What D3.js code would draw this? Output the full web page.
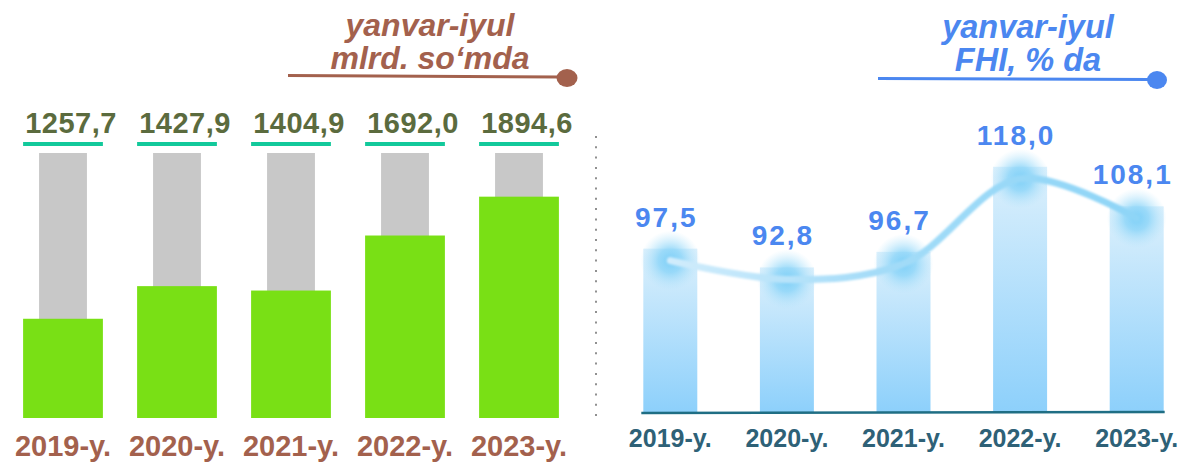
<!DOCTYPE html>
<html>
<head>
<meta charset="utf-8">
<script src="https://cdn.jsdelivr.net/npm/d3@7"></script>
<style>
  html, body { margin: 0; padding: 0; background: #fff; }
  svg { display: block; font-family: "Liberation Sans", Arial, sans-serif; }
</style>
</head>
<body>
<svg id="chart" width="1180" height="462"></svg>
<script>
// --- data ---
const years = ['2019-y.', '2020-y.', '2021-y.', '2022-y.', '2023-y.'];
const volume = [1257.7, 1427.9, 1404.9, 1692.0, 1894.6];   // mlrd. so'm
const growth = [97.5, 92.8, 96.7, 118.0, 108.1];           // FHI, %
const leftTitle = ['yanvar-iyul', 'mlrd. so‘mda'];
const rightTitle = ['yanvar-iyul', 'FHI, % da'];

const fmt = v => v.toFixed(1).replace('.', ',');

const svg = d3.select('#chart');
const defs = svg.append('defs');

// ---------- left chart ----------
const xL = d3.scaleBand().domain(years).range([6, 576]).paddingInner(0.3).paddingOuter(0.15);
const yL = d3.scaleLinear().domain([740, 2112]).range([418, 155]);
const left = svg.append('g');

// grey track behind each bar
left.selectAll('.track')
  .data(years)
  .join('rect')
  .attr('x', d => xL(d) + xL.bandwidth() * 0.2)
  .attr('width', xL.bandwidth() * 0.6)
  .attr('y', yL.range()[1] - 2)
  .attr('height', yL.range()[0] - yL.range()[1] + 2)
  .attr('fill', '#c8c8c8');

left.selectAll('.bar')
  .data(volume)
  .join('rect')
  .attr('x', (d, i) => xL(years[i]))
  .attr('width', xL.bandwidth())
  .attr('y', d => yL(d))
  .attr('height', d => yL.range()[0] - yL(d))
  .attr('fill', '#79e015');

left.selectAll('.uline')
  .data(years)
  .join('rect')
  .attr('x', d => xL(d))
  .attr('width', xL.bandwidth())
  .attr('y', 142)
  .attr('height', 4)
  .attr('fill', '#12c99b');

left.selectAll('.val')
  .data(volume)
  .join('text')
  .attr('x', (d, i) => xL(years[i]) + xL.bandwidth() / 2 + 8)
  .attr('y', 133)
  .attr('text-anchor', 'middle')
  .attr('font-size', 29)
  .attr('font-weight', 'bold')
  .attr('letter-spacing', 0.5)
  .attr('fill', '#5b6b3e')
  .text(fmt);

left.selectAll('.xlab')
  .data(years)
  .join('text')
  .attr('x', d => xL(d) + xL.bandwidth() / 2)
  .attr('y', 456)
  .attr('text-anchor', 'middle')
  .attr('font-size', 29)
  .attr('font-weight', 'bold')
  .attr('fill', '#a3614d')
  .text(d => d);

// left title
left.selectAll('.title')
  .data(leftTitle)
  .join('text')
  .attr('x', 430)
  .attr('y', (d, i) => 36 + i * 33)
  .attr('text-anchor', 'middle')
  .attr('font-size', 32)
  .attr('font-weight', 'bold')
  .attr('font-style', 'italic')
  .attr('fill', '#a3614d')
  .text(d => d);
left.append('line').attr('x1', 288).attr('x2', 560).attr('y1', 75.5).attr('y2', 77)
  .attr('stroke', '#a3614d').attr('stroke-width', 3);
left.append('ellipse').attr('cx', 567).attr('cy', 78).attr('rx', 10.5).attr('ry', 9).attr('fill', '#a3614d');

// dotted divider
svg.append('line').attr('x1', 596).attr('x2', 596).attr('y1', 136).attr('y2', 420)
  .attr('stroke', '#909090').attr('stroke-width', 2).attr('stroke-dasharray', '2,8.3');

// ---------- right chart ----------
const xR = d3.scaleBand().domain(years).range([612, 1195]).paddingInner(0.537).paddingOuter(0.2685);
const yR = d3.scaleLinear().domain([56.6, 120]).range([412, 158.8]);
const right = svg.append('g');

const grad = defs.append('linearGradient').attr('id', 'barGrad').attr('x1', 0).attr('y1', 0).attr('x2', 0).attr('y2', 1);
grad.append('stop').attr('offset', '0%').attr('stop-color', '#dcf0fc');
grad.append('stop').attr('offset', '100%').attr('stop-color', '#8dd0fb');

const glow = defs.append('radialGradient').attr('id', 'glow');
glow.append('stop').attr('offset', '0%').attr('stop-color', '#7dcff7').attr('stop-opacity', 1);
glow.append('stop').attr('offset', '40%').attr('stop-color', '#86d3f8').attr('stop-opacity', 0.75);
glow.append('stop').attr('offset', '100%').attr('stop-color', '#b5e4fb').attr('stop-opacity', 0);

const lineGrad = defs.append('linearGradient').attr('id', 'lineGrad')
  .attr('gradientUnits', 'userSpaceOnUse').attr('x1', 660).attr('x2', 1140).attr('y1', 0).attr('y2', 0);
lineGrad.append('stop').attr('offset', '0%').attr('stop-color', '#d3edfc');
lineGrad.append('stop').attr('offset', '45%').attr('stop-color', '#a4dcf8');
lineGrad.append('stop').attr('offset', '100%').attr('stop-color', '#8ed5f7');

defs.append('filter').attr('id', 'soft').append('feGaussianBlur').attr('stdDeviation', 1);

right.selectAll('.bar')
  .data(growth)
  .join('rect')
  .attr('x', (d, i) => xR(years[i]))
  .attr('width', xR.bandwidth())
  .attr('y', d => yR(d))
  .attr('height', d => yR.range()[0] - yR(d))
  .attr('fill', 'url(#barGrad)');

right.append('line')
  .attr('x1', xR(years[0]) - 2)
  .attr('x2', xR(years[years.length - 1]) + xR.bandwidth() + 1)
  .attr('y1', 413).attr('y2', 412)
  .attr('stroke', '#1f6e84').attr('stroke-width', 2.5);

const pts = growth.map((v, i) => [xR(years[i]) + xR.bandwidth() / 2, yR(v) + 12]);

right.selectAll('.glow')
  .data(pts)
  .join('circle')
  .attr('cx', d => d[0]).attr('cy', d => d[1]).attr('r', 30)
  .attr('fill', 'url(#glow)');

right.append('path')
  .datum(pts)
  .attr('d', d3.line().curve(d3.curveCatmullRom.alpha(0.5)))
  .attr('fill', 'none')
  .attr('stroke', 'url(#lineGrad)')
  .attr('stroke-width', 7)
  .attr('stroke-linecap', 'round')
  .attr('filter', 'url(#soft)');

right.selectAll('.val')
  .data(growth)
  .join('text')
  .attr('x', (d, i) => xR(years[i]) + xR.bandwidth() / 2 - 4)
  .attr('y', d => yR(d) - 22)
  .attr('text-anchor', 'middle')
  .attr('font-size', 28)
  .attr('font-weight', 'bold')
  .attr('letter-spacing', 2)
  .attr('fill', '#4b87f0')
  .text(fmt);

right.selectAll('.xlab')
  .data(years)
  .join('text')
  .attr('x', d => xR(d) + xR.bandwidth() / 2)
  .attr('y', 447)
  .attr('text-anchor', 'middle')
  .attr('font-size', 25)
  .attr('font-weight', 'bold')
  .attr('fill', '#2e6177')
  .text(d => d);

// right title
right.selectAll('.title')
  .data(rightTitle)
  .join('text')
  .attr('x', 1028)
  .attr('y', (d, i) => 38 + i * 33)
  .attr('text-anchor', 'middle')
  .attr('font-size', 32.5)
  .attr('font-weight', 'bold')
  .attr('font-style', 'italic')
  .attr('fill', '#4b87f0')
  .text(d => d);
right.append('line').attr('x1', 878).attr('x2', 1150).attr('y1', 78.5).attr('y2', 79.5)
  .attr('stroke', '#4b87f0').attr('stroke-width', 3);
right.append('ellipse').attr('cx', 1157).attr('cy', 80).attr('rx', 10).attr('ry', 9).attr('fill', '#4b87f0');
</script>
</body>
</html>
